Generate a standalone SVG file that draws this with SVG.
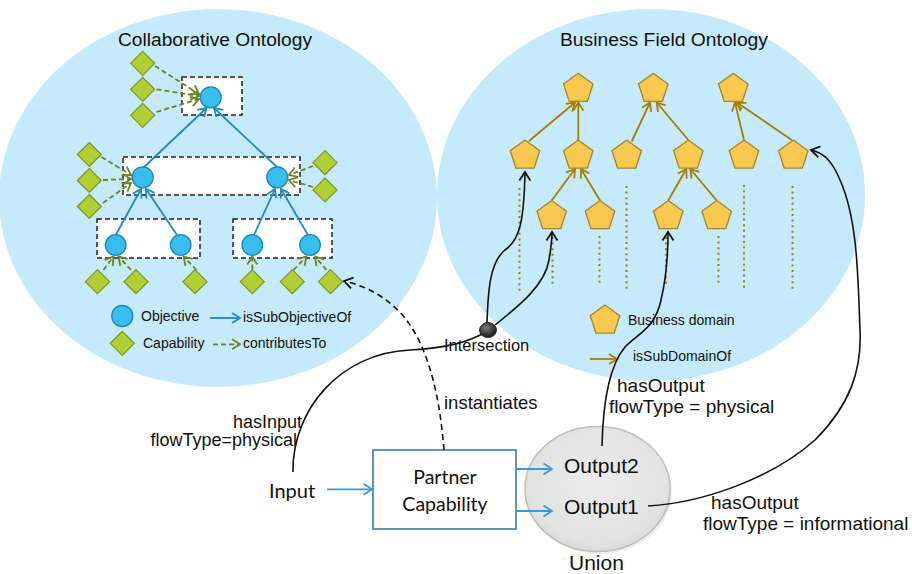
<svg xmlns="http://www.w3.org/2000/svg" width="912" height="574" viewBox="0 0 912 574">
<defs>
<style>
.onto{fill:#C5EAFB}
.title{font-family:"Liberation Sans",Arial,sans-serif;font-size:18px;fill:#111}
.obj{fill:#38BDF0;stroke:#1C86B5;stroke-width:1.3}
.cap{fill:#B0CF34;stroke:#7C961B;stroke-width:1.2}
.pent{fill:#F8C84F;stroke:#A6852B;stroke-width:1.3}
.box{fill:#fff;stroke:#222;stroke-width:1.5;stroke-dasharray:5 3}
.sub{stroke:#1E88CC;stroke-width:1.8;fill:none;marker-end:url(#mBlue)}
.contrib{stroke:#6E8420;stroke-width:1.8;fill:none;stroke-dasharray:5 3;marker-end:url(#mGreen)}
.dom{stroke:#A67D00;stroke-width:1.8;fill:none;marker-end:url(#mOlive)}
.dots{stroke:#A67D00;stroke-width:2;stroke-dasharray:2 3.6;fill:none}
.flow{stroke:#111;stroke-width:1.6;fill:none;marker-end:url(#mBlack)}
.io{stroke:#3A9AD6;stroke-width:1.8;fill:none;marker-end:url(#mIO)}
.lbl{font-family:"Liberation Sans",Arial,sans-serif;fill:#111}
.leg{font-size:14px}
.big{font-size:19px}
.cal{font-family:Lato,"Noto Sans",sans-serif;fill:#111}
</style>
<polygon id="pentShape" points="0,-15.5 14.74,-4.79 9.11,12.54 -9.11,12.54 -14.74,-4.79"/>
<polygon id="diaShape" points="0,-12 12,0 0,12 -12,0"/>
<marker id="mBlue" markerUnits="userSpaceOnUse" markerWidth="14" markerHeight="14" refX="10" refY="7" orient="auto" overflow="visible"><path d="M2,2 L10,7 L2,12" fill="none" stroke="#1E88CC" stroke-width="1.8"/></marker>
<marker id="mGreen" markerUnits="userSpaceOnUse" markerWidth="14" markerHeight="14" refX="10" refY="7" orient="auto" overflow="visible"><path d="M2,2 L10,7 L2,12" fill="none" stroke="#6E8420" stroke-width="1.8"/></marker>
<marker id="mOlive" markerUnits="userSpaceOnUse" markerWidth="14" markerHeight="14" refX="10" refY="7" orient="auto" overflow="visible"><path d="M2,2 L10,7 L2,12" fill="none" stroke="#A67D00" stroke-width="1.8"/></marker>
<marker id="mBlack" markerUnits="userSpaceOnUse" markerWidth="14" markerHeight="14" refX="10" refY="7" orient="auto" overflow="visible"><path d="M1.5,1.5 L10,7 L1.5,12.5" fill="none" stroke="#111" stroke-width="1.8"/></marker>
<marker id="mIO" markerUnits="userSpaceOnUse" markerWidth="14" markerHeight="14" refX="10" refY="7" orient="auto" overflow="visible"><path d="M1.5,1.5 L10,7 L1.5,12.5" fill="none" stroke="#3A9AD6" stroke-width="1.8"/></marker>
<radialGradient id="ballG" cx="0.4" cy="0.35" r="0.7"><stop offset="0" stop-color="#7a7a7a"/><stop offset="1" stop-color="#111"/></radialGradient>
<radialGradient id="unionG" cx="0.5" cy="0.45" r="0.6"><stop offset="0" stop-color="#ececec"/><stop offset="0.8" stop-color="#e2e2e2"/><stop offset="1" stop-color="#d2d2d2"/></radialGradient>
</defs>

<!-- ontology backgrounds -->
<g id="collaborative-ontology">
<ellipse class="onto" cx="218" cy="198" rx="219" ry="189"/>
<text class="title" x="215" y="46" text-anchor="middle" textLength="194" lengthAdjust="spacingAndGlyphs">Collaborative Ontology</text>
</g>
<g id="business-field-ontology">
<ellipse class="onto" cx="651" cy="195" rx="214" ry="186"/>
<text class="title" x="664" y="46" text-anchor="middle" textLength="208" lengthAdjust="spacingAndGlyphs">Business Field Ontology</text>
</g>

<!-- dashed group boxes -->
<g id="box-top"><rect class="box" x="182" y="77" width="60" height="38"/></g>
<g id="box-mid"><rect class="box" x="123" y="157" width="177" height="38"/></g>
<g id="box-bl"><rect class="box" x="97" y="219" width="103" height="39"/></g>
<g id="box-br"><rect class="box" x="233" y="219" width="99" height="39"/></g>

<!-- dotted lines -->
<g id="dotted">
<line class="dots" x1="519.5" y1="188" x2="519.5" y2="292"/>
<line class="dots" x1="552.5" y1="237" x2="552.5" y2="286"/>
<line class="dots" x1="599.5" y1="236" x2="599.5" y2="286"/>
<line class="dots" x1="626.5" y1="186" x2="626.5" y2="290"/>
<line class="dots" x1="666" y1="237" x2="666" y2="286"/>
<line class="dots" x1="718.5" y1="236" x2="718.5" y2="286"/>
<line class="dots" x1="744" y1="185" x2="744" y2="289"/>
<line class="dots" x1="792.5" y1="186" x2="792.5" y2="290"/>
</g>

<!-- tree connectors -->
<g id="tree-connectors">
<line class="sub" x1="143" y1="168" x2="206.5" y2="108"/>
<line class="sub" x1="278" y1="168" x2="214" y2="108"/>
<line class="sub" x1="116" y1="234.5" x2="141" y2="189"/>
<line class="sub" x1="177" y1="235" x2="146" y2="189"/>
<line class="sub" x1="254" y1="235" x2="275" y2="189"/>
<line class="sub" x1="308" y1="235" x2="281" y2="189"/>
<line class="contrib" x1="155" y1="66" x2="199" y2="94"/>
<line class="contrib" x1="156.5" y1="89.3" x2="199" y2="96"/>
<line class="contrib" x1="156.5" y1="112" x2="199" y2="99"/>
<line class="contrib" x1="101.5" y1="157" x2="131" y2="175"/>
<line class="contrib" x1="103" y1="180" x2="131" y2="179"/>
<line class="contrib" x1="103" y1="203" x2="131" y2="183"/>
<line class="contrib" x1="313" y1="166" x2="289" y2="175"/>
<line class="contrib" x1="313" y1="187" x2="289" y2="180"/>
<line class="contrib" x1="103.5" y1="270" x2="113.5" y2="256.5"/>
<line class="contrib" x1="131" y1="270" x2="118.5" y2="256.5"/>
<line class="contrib" x1="196.5" y1="270" x2="183.5" y2="256.5"/>
<line class="contrib" x1="252.3" y1="269.5" x2="252.3" y2="256.5"/>
<line class="contrib" x1="293.5" y1="270" x2="306.5" y2="256.5"/>
<line class="contrib" x1="326.5" y1="270" x2="315" y2="256.5"/>
<line class="dom" x1="529" y1="141" x2="575" y2="102.5"/>
<line class="dom" x1="578.3" y1="140" x2="578.3" y2="102.5"/>
<line class="dom" x1="631.7" y1="141.5" x2="650" y2="102.5"/>
<line class="dom" x1="688.3" y1="140" x2="656.7" y2="102.5"/>
<line class="dom" x1="744" y1="140" x2="735" y2="102.5"/>
<line class="dom" x1="791.7" y1="140" x2="737" y2="102.5"/>
<line class="dom" x1="551.7" y1="200.5" x2="575" y2="169"/>
<line class="dom" x1="600" y1="200.5" x2="581" y2="169"/>
<line class="dom" x1="668.3" y1="200.5" x2="686.3" y2="169"/>
<line class="dom" x1="716.7" y1="200.5" x2="690.3" y2="169"/>
</g>

<!-- objectives -->
<g id="obj-top"><circle class="obj" cx="210.7" cy="97.3" r="10.5"/></g>
<g id="obj-mid-l"><circle class="obj" cx="142.7" cy="177.3" r="10.5"/></g>
<g id="obj-mid-r"><circle class="obj" cx="277.3" cy="177.3" r="10.5"/></g>
<g id="obj-b1"><circle class="obj" cx="115.7" cy="245" r="10.3"/></g>
<g id="obj-b2"><circle class="obj" cx="180.7" cy="245" r="10.3"/></g>
<g id="obj-b3"><circle class="obj" cx="252.3" cy="245" r="10.3"/></g>
<g id="obj-b4"><circle class="obj" cx="310" cy="245" r="10.3"/></g>

<!-- capabilities -->
<g id="cap-t1"><use href="#diaShape" class="cap" x="142.7" y="63.3"/></g>
<g id="cap-t2"><use href="#diaShape" class="cap" x="142.7" y="89.3"/></g>
<g id="cap-t3"><use href="#diaShape" class="cap" x="142.7" y="115.3"/></g>
<g id="cap-ml1"><use href="#diaShape" class="cap" x="89.3" y="154.5"/></g>
<g id="cap-ml2"><use href="#diaShape" class="cap" x="89.3" y="180.5"/></g>
<g id="cap-ml3"><use href="#diaShape" class="cap" x="89.3" y="206.5"/></g>
<g id="cap-mr1"><use href="#diaShape" class="cap" x="325" y="162.7"/></g>
<g id="cap-mr2"><use href="#diaShape" class="cap" x="325" y="190"/></g>
<g id="cap-b1"><use href="#diaShape" class="cap" x="97.5" y="281.7"/></g>
<g id="cap-b2"><use href="#diaShape" class="cap" x="136" y="281.7"/></g>
<g id="cap-b3"><use href="#diaShape" class="cap" x="195" y="281.7"/></g>
<g id="cap-b4"><use href="#diaShape" class="cap" x="252.3" y="281.7"/></g>
<g id="cap-b5"><use href="#diaShape" class="cap" x="292.3" y="281.7"/></g>
<g id="cap-b6"><use href="#diaShape" class="cap" x="330.5" y="281.7"/></g>

<!-- business domains -->
<g id="dom-1a"><use href="#pentShape" class="pent" x="578.3" y="88.8"/></g>
<g id="dom-1b"><use href="#pentShape" class="pent" x="653.3" y="88.8"/></g>
<g id="dom-1c"><use href="#pentShape" class="pent" x="733.3" y="88.8"/></g>
<g id="dom-2a"><use href="#pentShape" class="pent" x="525" y="155.5"/></g>
<g id="dom-2b"><use href="#pentShape" class="pent" x="578.3" y="155.5"/></g>
<g id="dom-2c"><use href="#pentShape" class="pent" x="626.7" y="155.5"/></g>
<g id="dom-2d"><use href="#pentShape" class="pent" x="688.3" y="155.5"/></g>
<g id="dom-2e"><use href="#pentShape" class="pent" x="744" y="155.5"/></g>
<g id="dom-2f"><use href="#pentShape" class="pent" x="793.3" y="155.5"/></g>
<g id="dom-3a"><use href="#pentShape" class="pent" x="551.7" y="216"/></g>
<g id="dom-3b"><use href="#pentShape" class="pent" x="600" y="216"/></g>
<g id="dom-3c"><use href="#pentShape" class="pent" x="668.3" y="216"/></g>
<g id="dom-3d"><use href="#pentShape" class="pent" x="716.7" y="216"/></g>

<!-- legends -->
<g id="legend-left">
<circle class="obj" cx="122.3" cy="316" r="10.5"/>
<text class="lbl leg" x="141" y="321">Objective</text>
<line class="sub" x1="210" y1="318" x2="240" y2="318"/>
<text class="lbl leg" x="243" y="322">isSubObjectiveOf</text>
<use href="#diaShape" class="cap" x="122.3" y="343.3"/>
<text class="lbl leg" x="143" y="348">Capability</text>
<line class="contrib" x1="213" y1="344.3" x2="240" y2="344.3"/>
<text class="lbl leg" x="243" y="347.5">contributesTo</text>
</g>
<g id="legend-right">
<use href="#pentShape" class="pent" x="605" y="320.5"/>
<text class="lbl leg" x="628" y="325">Business domain</text>
<line class="dom" x1="590" y1="359" x2="617" y2="359"/>
<text class="lbl leg" x="633" y="360.5">isSubDomainOf</text>
</g>

<!-- union -->
<g id="union">
<ellipse cx="599.5" cy="491.5" rx="72.5" ry="62.5" fill="#000" opacity="0.07"/>
<ellipse cx="597.5" cy="489" rx="72.5" ry="62.5" fill="url(#unionG)" stroke="#bdbdbd" stroke-width="1.5"/>
<text class="lbl" font-size="21" x="564" y="473">Output2</text>
<text class="lbl" font-size="21" x="564" y="514">Output1</text>
<text class="lbl" font-size="21" x="569" y="570">Union</text>
</g>

<!-- partner capability -->
<g id="partner-capability">
<rect x="373" y="450" width="143" height="79" fill="#fff" stroke="#3B78B4" stroke-width="1.6"/>
<text class="cal" font-size="19.5" x="445" y="484" text-anchor="middle">Partner</text>
<text class="cal" font-size="19.5" x="445" y="511" text-anchor="middle">Capability</text>
</g>
<g id="input">
<text class="cal" font-size="20" x="269" y="498">Input</text>
</g>

<!-- flow connectors -->
<g id="connectors">
<line class="io" x1="327" y1="489.3" x2="372" y2="489.3"/>
<line class="io" x1="516.5" y1="469" x2="552" y2="469"/>
<line class="io" x1="516.5" y1="511" x2="552" y2="511"/>
<path d="M293,472 C292,410 340,353 410,350 C450,348 470,341 486,332" stroke="#111" stroke-width="1.6" fill="none"/>
<path class="flow" d="M487,323 C488,290 490,262 505,250 C520,240 524,220 525,172"/>
<path class="flow" d="M495,325 C520,305 545,285 549,260 C551,248 552,240 552,232"/>
<path class="flow" d="M602,446 C603,400 610,365 625,347 C640,332 655,328 661,300 C667,275 668,250 668,232"/>
<path class="flow" d="M648,506 C700,503 770,480 815,440 C850,405 862,370 860,330 C858,280 858,220 840,180 C833,163 825,153 811,150"/>
<path class="flow" stroke-dasharray="6 4" d="M444,450 C440,400 430,350 405,318 C390,300 370,287 344,281"/>
<text class="lbl" font-size="18" x="302" y="428" text-anchor="end">hasInput</text>
<text class="lbl" font-size="18" x="297" y="446" text-anchor="end">flowType=physical</text>
<text class="lbl" font-size="18.5" x="444" y="409">instantiates</text>
<text class="lbl big" x="617" y="392">hasOutput</text>
<text class="lbl big" x="609" y="413">flowType = physical</text>
<text class="lbl big" x="711" y="509">hasOutput</text>
<text class="lbl big" x="703" y="530">flowType = informational</text>
</g>

<g id="intersection">
<ellipse cx="488" cy="330" rx="8.5" ry="7.5" fill="url(#ballG)" stroke="#111" stroke-width="0.8"/>
<text class="lbl" font-size="16.5" x="444" y="351">Intersection</text>
</g>
</svg>
